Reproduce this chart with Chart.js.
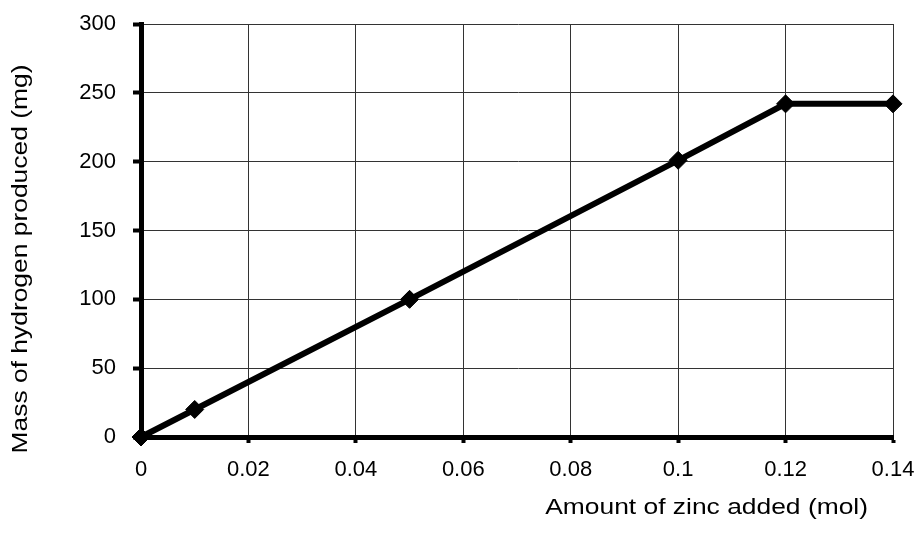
<!DOCTYPE html>
<html><head><meta charset="utf-8">
<script src="https://cdn.jsdelivr.net/npm/chart.js@4"></script>
<style>html,body{margin:0;padding:0;background:#fff}#wrap{width:921px;height:536px}</style>
</head><body><div id="wrap"><canvas id="c" width="921" height="536"></canvas></div>
<script>
const zincAmounts = [0, 0.01, 0.05, 0.1, 0.12, 0.14];
const hydrogenMass = [0, 20, 100, 201, 242, 242];
const xTitle = 'Amount of zinc added (mol)';
const yTitle = 'Mass of hydrogen produced (mg)';

const points = zincAmounts.map((x, i) => ({x: x, y: hydrogenMass[i]}));
const fam = '"Liberation Sans", Arial, sans-serif';
const tickFont = {family: fam, size: 22};

const titlePlugin = {
  id: 'axisTitles',
  afterDraw(chart) {
    const ctx = chart.ctx;
    ctx.save();
    ctx.fillStyle = '#000';
    ctx.font = '22px ' + fam;
    ctx.textBaseline = 'alphabetic';
    ctx.save();
    ctx.translate(868, 514);
    ctx.scale(1.2, 1);
    ctx.textAlign = 'right';
    ctx.fillText(xTitle, 0, 0);
    ctx.restore();
    ctx.save();
    ctx.translate(27, 259);
    ctx.rotate(-Math.PI / 2);
    ctx.scale(1.2, 1);
    ctx.textAlign = 'center';
    ctx.fillText(yTitle, 0, 0);
    ctx.restore();
    ctx.restore();
  }
};

new Chart(document.getElementById('c'), {
  type: 'scatter',
  data: {datasets: [{
    data: points, showLine: true, borderColor: '#000', backgroundColor: '#000',
    borderWidth: 6, pointStyle: 'rectRot', pointRadius: 9, pointHoverRadius: 9,
    pointBorderWidth: 1, clip: false
  }]},
  options: {
    responsive: false, animation: false, devicePixelRatio: 1,
    layout: {padding: {top: 24, right: 28, left: 0, bottom: 0}},
    plugins: {legend: {display: false}, tooltip: {enabled: false}},
    scales: {
      x: {
        type: 'linear', min: 0, max: 0.14,
        ticks: {stepSize: 0.02, color: '#000', font: tickFont, padding: 14,
          callback: v => String(Math.round(v * 100) / 100)},
        grid: {color: '#333', lineWidth: 1, tickLength: 6, tickWidth: 4, tickColor: '#000'},
        border: {width: 5, color: '#000'},
        afterFit: s => { s.height = 536 - 437; s.paddingLeft = 0; s.paddingRight = 0; }
      },
      y: {
        min: 0, max: 300,
        ticks: {stepSize: 50, color: '#000', font: tickFont, padding: 17},
        grid: {color: '#333', lineWidth: 1, tickLength: 8, tickWidth: 4, tickColor: '#000'},
        border: {width: 5, color: '#000'},
        afterFit: s => { s.width = 141; s.paddingTop = 0; s.paddingBottom = 0; }
      }
    }
  },
  plugins: [titlePlugin]
});
</script></body></html>
